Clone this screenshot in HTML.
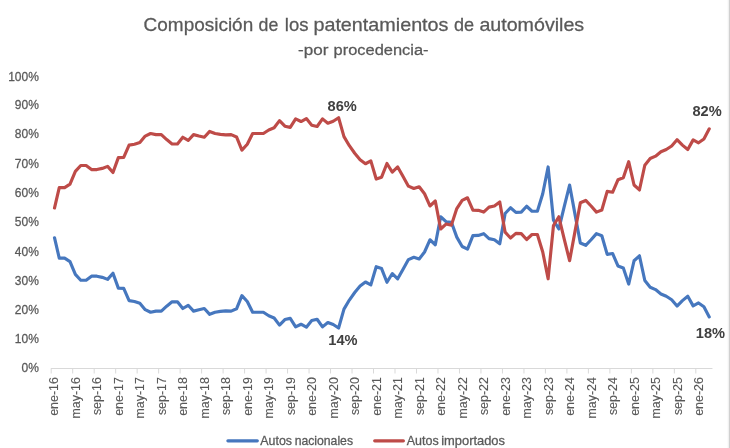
<!DOCTYPE html>
<html><head><meta charset="utf-8"><style>
html,body{margin:0;padding:0;background:#fff;}
body{width:730px;height:448px;overflow:hidden;position:relative;}
svg{position:absolute;left:0;top:0;will-change:transform;}
text[fill="#595959"]{stroke:#595959;stroke-width:0.28px;}
svg{font-family:"Liberation Sans",sans-serif;}
.edge{position:absolute;top:0;right:0;width:3px;height:448px;background:linear-gradient(to right,#fbfbfb 0,#fbfbfb 1px,#f1f1f1 1px,#f1f1f1 2px,#d0d0d0 2px,#d0d0d0 3px);}
</style></head><body>
<svg width="730" height="448" viewBox="0 0 730 448">
<line x1="50.90" y1="368.5" x2="712.46" y2="368.5" stroke="#D9D9D9" stroke-width="1"/>
<path d="M51.20,368.5V373.5M72.69,368.5V373.5M94.18,368.5V373.5M115.66,368.5V373.5M137.15,368.5V373.5M158.64,368.5V373.5M180.13,368.5V373.5M201.62,368.5V373.5M223.10,368.5V373.5M244.59,368.5V373.5M266.08,368.5V373.5M287.57,368.5V373.5M309.06,368.5V373.5M330.54,368.5V373.5M352.03,368.5V373.5M373.52,368.5V373.5M395.01,368.5V373.5M416.50,368.5V373.5M437.98,368.5V373.5M459.47,368.5V373.5M480.96,368.5V373.5M502.45,368.5V373.5M523.94,368.5V373.5M545.42,368.5V373.5M566.91,368.5V373.5M588.40,368.5V373.5M609.89,368.5V373.5M631.38,368.5V373.5M652.86,368.5V373.5M674.35,368.5V373.5M695.84,368.5V373.5" stroke="#D9D9D9" stroke-width="1" fill="none"/>
<polyline points="54.49,237.73 59.26,258.12 64.63,258.12 70.00,261.61 75.37,274.43 80.75,280.25 86.12,280.25 91.49,276.17 96.86,276.17 102.23,277.34 107.61,279.38 112.98,273.26 118.35,288.12 123.72,288.41 129.09,300.64 134.47,301.51 139.84,303.26 145.21,309.67 150.58,312.29 155.95,311.12 161.33,311.12 166.70,306.17 172.07,301.80 177.44,301.80 182.81,308.50 188.19,305.30 193.56,311.12 198.93,309.67 204.30,308.50 209.67,314.33 215.05,312.29 220.42,311.41 225.79,310.83 231.16,311.12 236.53,308.79 241.91,295.69 247.28,301.51 252.65,312.29 258.02,312.29 263.39,312.29 268.77,315.78 274.14,317.97 279.51,325.10 284.88,319.57 290.25,318.40 295.63,326.85 301.00,324.23 306.37,327.14 311.74,320.59 317.11,319.28 322.49,326.85 327.86,322.48 333.23,324.52 338.60,328.02 343.97,309.08 349.35,300.06 354.72,292.48 360.09,286.08 365.46,282.00 370.83,284.91 376.21,266.71 381.58,268.60 386.95,282.29 392.32,273.55 397.69,278.80 403.07,269.18 408.44,259.57 413.81,257.24 419.18,258.99 424.55,252.00 429.93,239.77 435.30,244.72 440.67,216.76 446.04,221.71 451.41,222.29 456.79,237.15 462.16,246.47 467.53,249.09 472.90,235.69 478.27,235.40 483.65,233.65 489.02,238.60 494.39,239.77 499.76,243.84 505.13,213.55 510.51,207.73 515.88,212.39 521.25,212.10 526.62,206.27 531.99,211.22 537.37,211.22 542.74,193.75 548.11,166.95 553.48,220.25 558.85,228.99 564.23,206.56 569.60,185.01 574.97,214.14 580.34,242.97 585.71,245.30 591.09,239.77 596.46,233.65 601.83,235.69 607.20,254.33 612.57,253.46 617.95,265.98 623.32,268.02 628.69,284.04 634.06,260.74 639.43,255.79 644.81,280.54 650.18,287.24 655.55,289.57 660.92,293.94 666.29,296.27 671.67,299.76 677.04,306.03 682.41,300.64 687.78,296.27 693.15,305.88 698.53,302.97 703.90,306.75 709.27,316.95" fill="none" stroke="#4677BE" stroke-width="3.15" stroke-linejoin="round" stroke-linecap="round"/>
<polyline points="54.49,208.02 59.26,187.63 64.63,187.63 70.00,184.14 75.37,171.32 80.75,165.50 86.12,165.50 91.49,169.58 96.86,169.58 102.23,168.41 107.61,166.37 112.98,172.49 118.35,157.63 123.72,157.34 129.09,145.11 134.47,144.24 139.84,142.49 145.21,136.08 150.58,133.46 155.95,134.63 161.33,134.63 166.70,139.58 172.07,143.95 177.44,143.95 182.81,137.25 188.19,140.45 193.56,134.63 198.93,136.08 204.30,137.25 209.67,131.42 215.05,133.46 220.42,134.33 225.79,134.92 231.16,134.63 236.53,136.96 241.91,150.06 247.28,144.24 252.65,133.46 258.02,133.46 263.39,133.46 268.77,129.97 274.14,127.78 279.51,120.65 284.88,126.18 290.25,127.34 295.63,118.90 301.00,121.52 306.37,118.61 311.74,125.16 317.11,126.47 322.49,118.90 327.86,123.27 333.23,121.23 338.60,117.73 343.97,136.67 349.35,145.69 354.72,153.27 360.09,159.67 365.46,163.75 370.83,160.84 376.21,179.04 381.58,177.15 386.95,163.46 392.32,172.20 397.69,166.95 403.07,176.57 408.44,186.18 413.81,188.51 419.18,186.76 424.55,193.75 429.93,205.98 435.30,201.03 440.67,228.99 446.04,224.04 451.41,225.12 456.79,208.60 462.16,200.39 467.53,197.77 472.90,210.06 478.27,210.35 483.65,212.10 489.02,207.15 494.39,205.98 499.76,201.90 505.13,232.19 510.51,238.02 515.88,233.36 521.25,233.65 526.62,239.48 531.99,234.53 537.37,234.53 542.74,252.00 548.11,278.80 553.48,225.50 558.85,216.76 564.23,239.19 569.60,260.74 574.97,231.61 580.34,202.78 585.71,200.45 591.09,205.98 596.46,212.10 601.83,210.06 607.20,191.42 612.57,192.29 617.95,179.77 623.32,177.73 628.69,161.71 634.06,185.01 639.43,189.96 644.81,165.21 650.18,158.51 655.55,156.18 660.92,151.81 666.29,149.48 671.67,145.98 677.04,139.72 682.41,145.11 687.78,149.48 693.15,139.87 698.53,142.78 703.90,139.00 709.27,128.80" fill="none" stroke="#BE4B48" stroke-width="3.15" stroke-linejoin="round" stroke-linecap="round"/>
<line x1="227.9" y1="440.8" x2="257.3" y2="440.8" stroke="#4677BE" stroke-width="3.2" stroke-linecap="round"/>
<line x1="374.7" y1="440.8" x2="403.4" y2="440.8" stroke="#BE4B48" stroke-width="3.2" stroke-linecap="round"/>
<text x="143.61" y="31.0" font-size="19" fill="#595959" textLength="109.58" lengthAdjust="spacingAndGlyphs">Composición</text>
<text x="258.53" y="31.0" font-size="19" fill="#595959" textLength="19.74" lengthAdjust="spacingAndGlyphs">de</text>
<text x="284.79" y="31.0" font-size="19" fill="#595959" textLength="23.66" lengthAdjust="spacingAndGlyphs">los</text>
<text x="313.41" y="31.0" font-size="19" fill="#595959" textLength="135.07" lengthAdjust="spacingAndGlyphs">patentamientos</text>
<text x="454.01" y="31.0" font-size="19" fill="#595959" textLength="20.12" lengthAdjust="spacingAndGlyphs">de</text>
<text x="479.40" y="31.0" font-size="19" fill="#595959" textLength="104.81" lengthAdjust="spacingAndGlyphs">automóviles</text>
<text x="298.10" y="54.5" font-size="15.4" fill="#595959" textLength="30.37" lengthAdjust="spacingAndGlyphs">-por</text>
<text x="333.62" y="54.5" font-size="15.4" fill="#595959" textLength="94.95" lengthAdjust="spacingAndGlyphs">procedencia-</text>
<text x="260.34" y="444.6" font-size="12.4" fill="#595959" textLength="31.71" lengthAdjust="spacingAndGlyphs">Autos</text>
<text x="294.63" y="444.6" font-size="12.4" fill="#595959" textLength="58.39" lengthAdjust="spacingAndGlyphs">nacionales</text>
<text x="406.74" y="444.6" font-size="12.4" fill="#595959" textLength="31.93" lengthAdjust="spacingAndGlyphs">Autos</text>
<text x="441.21" y="444.6" font-size="12.4" fill="#595959" textLength="63.79" lengthAdjust="spacingAndGlyphs">importados</text>
<text transform="translate(38.85,372.30) scale(0.91,1)" font-size="13.2" fill="#595959" text-anchor="end">0%</text>
<text transform="translate(38.85,343.05) scale(0.91,1)" font-size="13.2" fill="#595959" text-anchor="end">10%</text>
<text transform="translate(38.85,313.90) scale(0.91,1)" font-size="13.2" fill="#595959" text-anchor="end">20%</text>
<text transform="translate(38.85,284.60) scale(0.91,1)" font-size="13.2" fill="#595959" text-anchor="end">30%</text>
<text transform="translate(38.85,255.50) scale(0.91,1)" font-size="13.2" fill="#595959" text-anchor="end">40%</text>
<text transform="translate(38.85,225.95) scale(0.91,1)" font-size="13.2" fill="#595959" text-anchor="end">50%</text>
<text transform="translate(38.85,196.80) scale(0.91,1)" font-size="13.2" fill="#595959" text-anchor="end">60%</text>
<text transform="translate(38.85,167.60) scale(0.91,1)" font-size="13.2" fill="#595959" text-anchor="end">70%</text>
<text transform="translate(38.85,138.20) scale(0.91,1)" font-size="13.2" fill="#595959" text-anchor="end">80%</text>
<text transform="translate(38.85,109.10) scale(0.91,1)" font-size="13.2" fill="#595959" text-anchor="end">90%</text>
<text transform="translate(38.85,81.00) scale(0.91,1)" font-size="13.2" fill="#595959" text-anchor="end">100%</text>
<text transform="translate(58.49,377.2) rotate(-90)" font-size="12.4" fill="#595959" text-anchor="end" style="stroke-width:0.12px">ene-16</text>
<text transform="translate(79.97,377.2) rotate(-90)" font-size="12.4" fill="#595959" text-anchor="end" style="stroke-width:0.12px">may-16</text>
<text transform="translate(101.46,377.2) rotate(-90)" font-size="12.4" fill="#595959" text-anchor="end" style="stroke-width:0.12px">sep-16</text>
<text transform="translate(122.95,377.2) rotate(-90)" font-size="12.4" fill="#595959" text-anchor="end" style="stroke-width:0.12px">ene-17</text>
<text transform="translate(144.44,377.2) rotate(-90)" font-size="12.4" fill="#595959" text-anchor="end" style="stroke-width:0.12px">may-17</text>
<text transform="translate(165.93,377.2) rotate(-90)" font-size="12.4" fill="#595959" text-anchor="end" style="stroke-width:0.12px">sep-17</text>
<text transform="translate(187.41,377.2) rotate(-90)" font-size="12.4" fill="#595959" text-anchor="end" style="stroke-width:0.12px">ene-18</text>
<text transform="translate(208.90,377.2) rotate(-90)" font-size="12.4" fill="#595959" text-anchor="end" style="stroke-width:0.12px">may-18</text>
<text transform="translate(230.39,377.2) rotate(-90)" font-size="12.4" fill="#595959" text-anchor="end" style="stroke-width:0.12px">sep-18</text>
<text transform="translate(251.88,377.2) rotate(-90)" font-size="12.4" fill="#595959" text-anchor="end" style="stroke-width:0.12px">ene-19</text>
<text transform="translate(273.37,377.2) rotate(-90)" font-size="12.4" fill="#595959" text-anchor="end" style="stroke-width:0.12px">may-19</text>
<text transform="translate(294.85,377.2) rotate(-90)" font-size="12.4" fill="#595959" text-anchor="end" style="stroke-width:0.12px">sep-19</text>
<text transform="translate(316.34,377.2) rotate(-90)" font-size="12.4" fill="#595959" text-anchor="end" style="stroke-width:0.12px">ene-20</text>
<text transform="translate(337.83,377.2) rotate(-90)" font-size="12.4" fill="#595959" text-anchor="end" style="stroke-width:0.12px">may-20</text>
<text transform="translate(359.32,377.2) rotate(-90)" font-size="12.4" fill="#595959" text-anchor="end" style="stroke-width:0.12px">sep-20</text>
<text transform="translate(380.81,377.2) rotate(-90)" font-size="12.4" fill="#595959" text-anchor="end" style="stroke-width:0.12px">ene-21</text>
<text transform="translate(402.29,377.2) rotate(-90)" font-size="12.4" fill="#595959" text-anchor="end" style="stroke-width:0.12px">may-21</text>
<text transform="translate(423.78,377.2) rotate(-90)" font-size="12.4" fill="#595959" text-anchor="end" style="stroke-width:0.12px">sep-21</text>
<text transform="translate(445.27,377.2) rotate(-90)" font-size="12.4" fill="#595959" text-anchor="end" style="stroke-width:0.12px">ene-22</text>
<text transform="translate(466.76,377.2) rotate(-90)" font-size="12.4" fill="#595959" text-anchor="end" style="stroke-width:0.12px">may-22</text>
<text transform="translate(488.25,377.2) rotate(-90)" font-size="12.4" fill="#595959" text-anchor="end" style="stroke-width:0.12px">sep-22</text>
<text transform="translate(509.73,377.2) rotate(-90)" font-size="12.4" fill="#595959" text-anchor="end" style="stroke-width:0.12px">ene-23</text>
<text transform="translate(531.22,377.2) rotate(-90)" font-size="12.4" fill="#595959" text-anchor="end" style="stroke-width:0.12px">may-23</text>
<text transform="translate(552.71,377.2) rotate(-90)" font-size="12.4" fill="#595959" text-anchor="end" style="stroke-width:0.12px">sep-23</text>
<text transform="translate(574.20,377.2) rotate(-90)" font-size="12.4" fill="#595959" text-anchor="end" style="stroke-width:0.12px">ene-24</text>
<text transform="translate(595.69,377.2) rotate(-90)" font-size="12.4" fill="#595959" text-anchor="end" style="stroke-width:0.12px">may-24</text>
<text transform="translate(617.17,377.2) rotate(-90)" font-size="12.4" fill="#595959" text-anchor="end" style="stroke-width:0.12px">sep-24</text>
<text transform="translate(638.66,377.2) rotate(-90)" font-size="12.4" fill="#595959" text-anchor="end" style="stroke-width:0.12px">ene-25</text>
<text transform="translate(660.15,377.2) rotate(-90)" font-size="12.4" fill="#595959" text-anchor="end" style="stroke-width:0.12px">may-25</text>
<text transform="translate(681.64,377.2) rotate(-90)" font-size="12.4" fill="#595959" text-anchor="end" style="stroke-width:0.12px">sep-25</text>
<text transform="translate(703.13,377.2) rotate(-90)" font-size="12.4" fill="#595959" text-anchor="end" style="stroke-width:0.12px">ene-26</text>
<text transform="translate(327.5,111.2) scale(0.95,1)" font-size="15.4" font-weight="bold" fill="#404040">86%</text>
<text transform="translate(328.3,345.2) scale(0.95,1)" font-size="15.4" font-weight="bold" fill="#404040">14%</text>
<text transform="translate(692.4,116.2) scale(0.95,1)" font-size="15.4" font-weight="bold" fill="#404040">82%</text>
<text transform="translate(695.8,338.0) scale(0.95,1)" font-size="15.4" font-weight="bold" fill="#404040">18%</text>
</svg>
<div class="edge"></div>
</body></html>
